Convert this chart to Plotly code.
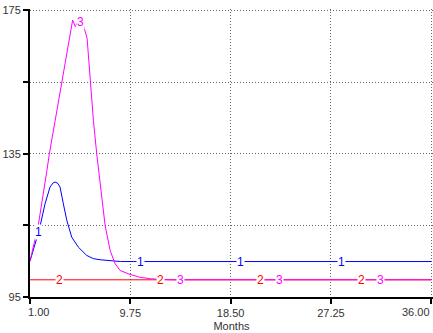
import numpy as np
import plotly.graph_objects as go

# series 1 (blue)
months_1 = [1.0, 1.4, 1.81, 2.31, 2.75, 3.0, 3.18, 3.4, 3.62, 3.91, 4.21, 4.64, 5.22, 5.95, 6.53, 7.11, 8.0, 8.9, 10.0, 36.0]
values_1 = [105, 109.5, 113.8, 121, 125.7, 126.8, 127.1, 126.8, 125.7, 121, 116.4, 111.7, 108.9, 106.6, 105.7, 105.4, 105.1, 104.9, 104.9, 104.9]

# series 2 (red)
months_2 = [1.0, 36.0]
values_2 = [99.8, 99.8]

# series 3 (magenta)
months_3 = [1.0, 1.72, 2.46, 2.69, 3.18, 3.79, 4.41, 4.55, 4.72, 4.95, 5.17, 5.4, 5.69, 5.98,
            6.24, 6.53, 6.82, 7.2, 7.55, 7.99, 8.42, 8.86, 9.73, 10.6, 11.5, 12.5, 13.5, 36.0]
values_3 = [105, 115, 130, 135, 144, 155, 165.8, 169.4, 172.3, 170.5, 171.9, 171.8, 170.5, 167.2,
            155.5, 144.3, 135, 124, 115, 108, 104.3, 102.4, 101.3, 100.5, 100.1, 99.9, 99.8, 99.8]

x_ticks = [1.0, 9.75, 18.5, 27.25, 36.0]
x_tick_text = ["1.00", "9.75", "18.50", "27.25", "36.00"]
y_ticks = [95, 115, 135, 155, 175]
y_tick_text = ["95", "", "135", "", "175"]

series = [
    ("1", months_1, values_1, "#0000ff", [1.74, 10.6, 19.4, 28.2]),
    ("2", months_2, values_2, "#ff0000", [3.56, 12.35, 21.1, 29.9]),
    ("3", months_3, values_3, "#ff00ff", [5.37, 14.1, 22.8, 31.6]),
]

FONT = "Liberation Sans Narrow, Arial Narrow, Liberation Sans, Arial, sans-serif"
TEXT = "#333333"

fig = go.Figure()
for name, xs, ys, color, label_at in series:
    fig.add_trace(
        go.Scatter(x=xs, y=ys, mode="lines", name=name,
                   line={"color": color, "width": 1}, showlegend=False)
    )

for name, xs, ys, color, label_at in series:
    for m in label_at:
        fig.add_annotation(
            x=m, y=float(np.interp(m, xs, ys)), text=name, showarrow=False,
            xanchor="center", yanchor="middle", bgcolor="white", borderpad=0,
            font={"family": FONT, "size": 12, "color": color},
        )

# end tick labels are nudged inward (as in the original), so draw those two as annotations
shown_ticks = [t if i not in (0, len(x_tick_text) - 1) else "" for i, t in enumerate(x_tick_text)]
for tick, label, anchor, shift in [(x_ticks[0], x_tick_text[0], "left", -4),
                                   (x_ticks[-1], x_tick_text[-1], "right", 1)]:
    fig.add_annotation(
        x=tick, y=0, xref="x", yref="paper", text=label, showarrow=False,
        xanchor=anchor, yanchor="top", xshift=shift, yshift=-7,
        font={"family": FONT, "size": 11, "color": TEXT},
    )

grid = {"showgrid": True, "gridcolor": "#666666", "griddash": "1px,2px", "gridwidth": 1}
axis = {"showline": True, "linewidth": 2, "linecolor": "black", "mirror": False,
        "ticks": "outside", "ticklen": 5, "tickwidth": 2, "tickcolor": "black",
        "zeroline": False, "automargin": False}

fig.update_layout(
    width=433,
    height=333,
    plot_bgcolor="white",
    paper_bgcolor="white",
    margin={"l": 30, "r": 0, "t": 9, "b": 36},
    font={"family": FONT, "size": 11, "color": TEXT},
)
# ranges run a hair past the last ticks so plotly keeps the edge grid lines
fig.update_xaxes(
    range=[1, 36.15], tickvals=x_ticks, ticktext=shown_ticks,
    title={"text": "Months", "standoff": 4, "font": {"size": 11}},
    **grid, **axis,
)
fig.update_yaxes(
    range=[95, 175.4], tickvals=y_ticks, ticktext=y_tick_text,
    **grid, **axis,
)

# page body has a default 8px margin; drop it so the figure sits at the window corner
fig.write_html(
    "out.html",
    config={"displayModeBar": False},
    post_script="document.body.style.margin='0';document.body.style.overflow='hidden';",
)
